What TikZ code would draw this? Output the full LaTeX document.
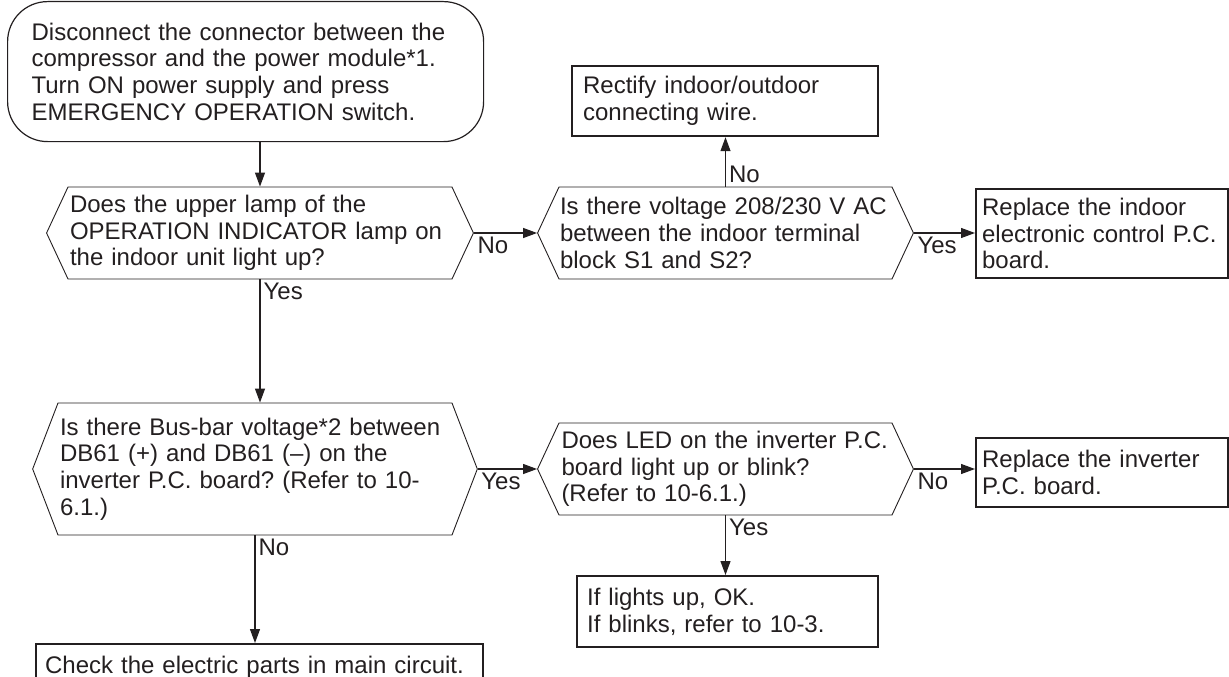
\documentclass[tikz,border=0pt]{standalone}
\usepackage{fontspec}
\setmainfont{Liberation Sans}
\usetikzlibrary{arrows.meta,shapes.symbols}
\definecolor{ink}{RGB}{35,31,32}
\frenchspacing
\tikzset{
  txt/.style={font=\fontsize{24}{26.7}\selectfont, align=left, text=ink},
  hexq/.style={txt, draw=ink, line width=0.9pt, shape=signal, signal to=west and east, signal pointer angle=130, inner xsep=2pt, inner ysep=0pt, minimum height=92pt},
  stepbox/.style={txt, draw=ink, line width=2.2pt, inner ysep=0pt, anchor=north west},
  arr/.style={draw=ink, line width=1.2pt, -{Triangle[length=14pt,width=10pt]}},
  lbl/.style={txt, inner sep=3pt},
}
\begin{document}
\begin{tikzpicture}[x=1pt,y=-1pt]
\useasboundingbox (0,0) rectangle (1229,677);
\node[txt, draw=ink, line width=1.2pt, rounded corners=40pt, inner xsep=24pt, inner ysep=0pt, text width=428pt, minimum height=140pt, anchor=north west] (start) at (7,1) {Disconnect the connector between the\\compressor and the power module*1.\\Turn ON power supply and press\\EMERGENCY OPERATION switch.};
\node[hexq, text width=380pt] (q1) at (260,233) {Does the upper lamp of the\\OPERATION INDICATOR lamp on\\the indoor unit light up?};
\node[hexq, text width=331pt, inner xsep=1pt] (q2) at (725.5,233) {\mbox{Is there voltage 208/230 V AC}\\between the indoor terminal\\block S1 and S2?};
\node[hexq, text width=390pt, signal pointer angle=138, minimum height=132pt] (q3) at (255,469) {Is there Bus-bar voltage*2 between\\DB61 (+) and DB61 (–) on the\\inverter P.C. board? (Refer to 10-\\6.1.)};
\node[hexq, text width=328pt, inner xsep=2.5pt] (q4) at (725.5,469) {Does LED on the inverter P.C.\\board light up or blink?\\(Refer to 10-6.1.)};
\node[stepbox, text width=284pt, inner xsep=11pt, minimum height=70pt] (wire) at (571,65) {Rectify indoor/outdoor\\connecting wire.};
\node[stepbox, text width=240pt, inner xsep=6pt, minimum height=89pt] (indoor) at (975,188) {Replace the indoor\\electronic control P.C.\\board.};
\node[stepbox, text width=240pt, inner xsep=6pt, minimum height=69pt] (inverter) at (975,437) {Replace the inverter\\P.C. board.};
\node[stepbox, text width=281pt, inner xsep=10pt, minimum height=71pt] (ok) at (576,575) {If lights up, OK.\\If blinks, refer to 10-3.};
\node[stepbox, text width=429pt, inner xsep=9pt, minimum height=46pt] (parts) at (35,643) {Check the electric parts in main circuit.};
\draw[arr] (start.south -| q1.north) -- (q1.north);
\draw[arr] (q1.east) -- node[lbl, pos=0, below right] (n1) {No} (q2.west);
\draw[arr] (q1.south) -- node[lbl, pos=0, below right] (y1) {Yes} (q1.south |- q3.north);
\draw[arr] (q2.north) -- node[lbl, pos=0, above right] (n2) {No} (q2.north |- wire.south);
\draw[arr] (q2.east) -- node[lbl, pos=0, below right] (y2) {Yes} (q2.east -| indoor.west);
\draw[arr] (q3.east) -- node[lbl, pos=0, below right] (y3) {Yes} (q4.west);
\draw[arr] (q3.south) -- node[lbl, pos=0, below right] (n3) {No} (q3.south |- parts.north);
\draw[arr] (q4.east) -- node[lbl, pos=0, below right] (n4) {No} (q4.east -| inverter.west);
\draw[arr] (q4.south) -- node[lbl, pos=0, below right] (y4) {Yes} (q4.south |- ok.north);
\end{tikzpicture}
\end{document}
